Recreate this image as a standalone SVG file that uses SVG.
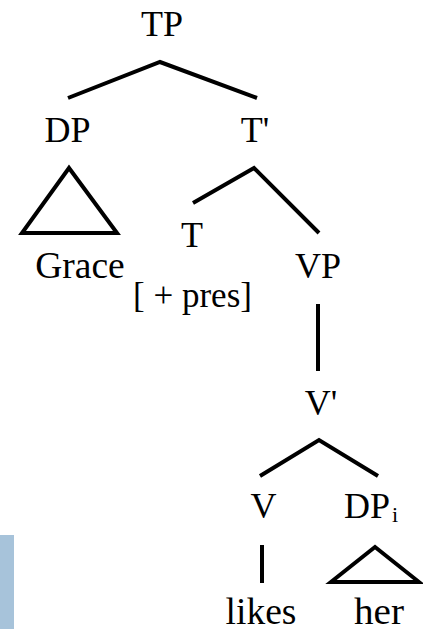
<svg xmlns="http://www.w3.org/2000/svg" width="423" height="629" viewBox="0 0 423 629">
  <style>
    .edge { stroke: #000; stroke-width: 4; fill: none; stroke-linecap: butt; stroke-linejoin: miter; }
  </style>
  <rect width="423" height="629" fill="#fff"/>
  <!-- side tab -->
  <rect x="0" y="535" width="14" height="94" fill="#a7c3da"/>

  <g id="connectors">
    <polyline class="edge" points="68,98 160,62 257,98"/>
    <polyline class="edge" points="193,203 254,168 319,233"/>
    <line class="edge" x1="318" y1="304" x2="318" y2="371"/>
    <polyline class="edge" points="260,476 319,440 378,476"/>
    <line class="edge" x1="262" y1="545" x2="262" y2="583"/>
    <polygon class="edge" points="69,168 22,233 117,233"/>
    <polygon class="edge" points="375,547 331,582 419,582"/>
  </g>

  <g font-family="'Liberation Serif', 'DejaVu Serif', serif" font-size="36" fill="#000" text-anchor="middle">
    <g id="node-TP"><text x="162" y="36">TP</text></g>
    <g id="node-DP"><text x="67.5" y="142">DP</text></g>
    <g id="node-Tbar"><text x="255" y="142">T'</text></g>
    <g id="node-Grace"><text x="80" y="278" font-size="37.5">Grace</text></g>
    <g id="node-T">
      <text x="192" y="247">T</text>
      <text x="192.5" y="307" font-size="35">[ + pres]</text>
    </g>
    <g id="node-VP"><text x="318" y="278">VP</text></g>
    <g id="node-Vbar"><text x="321" y="415">V'</text></g>
    <g id="node-V"><text x="263.5" y="518">V</text></g>
    <g id="node-DPi">
      <text x="367" y="518">DP</text>
      <text x="392" y="522" font-size="22" text-anchor="start">i</text>
    </g>
    <g id="node-likes"><text x="261" y="624" font-size="37.5">likes</text></g>
    <g id="node-her"><text x="379" y="624" font-size="38" textLength="50" lengthAdjust="spacingAndGlyphs">her</text></g>
  </g>
</svg>
